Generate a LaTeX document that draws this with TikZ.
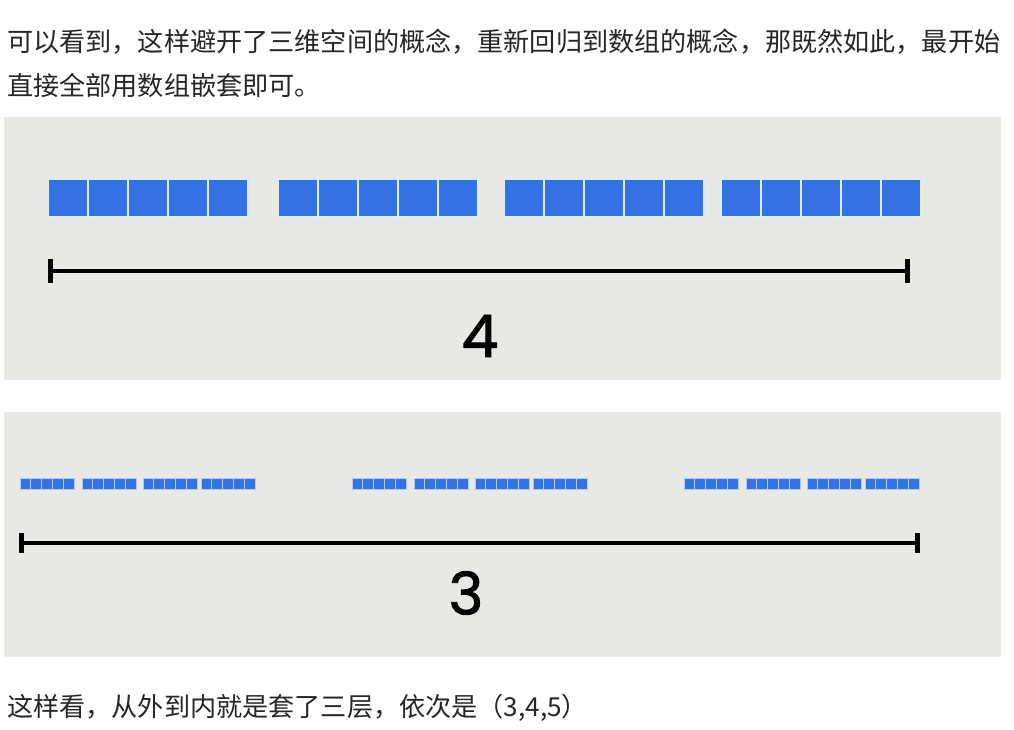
\documentclass[tikz,border=0pt]{standalone}
\usepackage{fontspec}
\setmainfont{Liberation Sans}
\newfontfamily\cjk{Noto Sans CJK SC}
\newfontfamily\digitfont{Poppins}[FakeBold=1.6]
\usetikzlibrary{arrows.meta}
\definecolor{panelgray}{RGB}{232,233,229}
\definecolor{cellblue}{RGB}{51,114,227}
\definecolor{cellrim}{RGB}{222,238,255}

\begin{document}
\begin{tikzpicture}[
  x=0.75pt, y=-0.75pt,
  panel/.style={fill=panelgray},
  bigcell/.style={fill=cellblue, draw=cellrim, line width=1pt},
  smallcell/.style={fill=cellblue, draw=cellrim!70!cellblue, line width=0.5pt},
  span/.style={{Bar[width=18pt]}-{Bar[width=18pt]}, line width=3.6pt},
  smallspan/.style={{Bar[width=15pt]}-{Bar[width=15pt]}, line width=3.6pt},
  prose/.style={anchor=west, inner sep=0pt, text=black!85, font=\cjk\fontsize{19.6}{24}\selectfont},
  count/.style={inner sep=0pt, font=\digitfont\fontsize{44}{48}\selectfont}
]
\fill[white] (0,0) rectangle (1014,730);
\useasboundingbox (0,0) rectangle (1014,730);

\node[prose] (intro1) at (7,42) {可以看到，这样避开了三维空间的概念，重新回归到数组的概念，那既然如此，最开始};
\node[prose] (intro2) at (7,85) {直接全部用数组嵌套即可。};

% top panel: 4 groups of 5
\fill[panel] (4,117) rectangle (1001,380);
\foreach \gx in {48,278,504,721}
  \foreach \i in {0,...,4}
    \draw[bigcell] (\gx+40*\i,179) rectangle ++(40,38);
\coordinate (fourL) at (48,271);
\coordinate (fourR) at (910,271);
\draw[span] (fourL) -- (fourR);
\node[count] (four) at (480,336) {4};

% bottom panel: 3 x 4 groups of 5
\fill[panel] (4,412) rectangle (1001,657);
\foreach \sx in {0,332,664}
  \foreach \gx in {20,82,143,201}
    \foreach \i in {0,...,4}
      \draw[smallcell] (\sx+\gx+10.8*\i,478) rectangle ++(10.8,11);
\coordinate (threeL) at (19,543);
\coordinate (threeR) at (920,543);
\draw[smallspan] (threeL) -- (threeR);
\node[count] (three) at (466,593) {3};

\node[prose] (outro) at (7,708) {这样看，从外到内就是套了三层，依次是（3,4,5）};
\end{tikzpicture}
\end{document}
